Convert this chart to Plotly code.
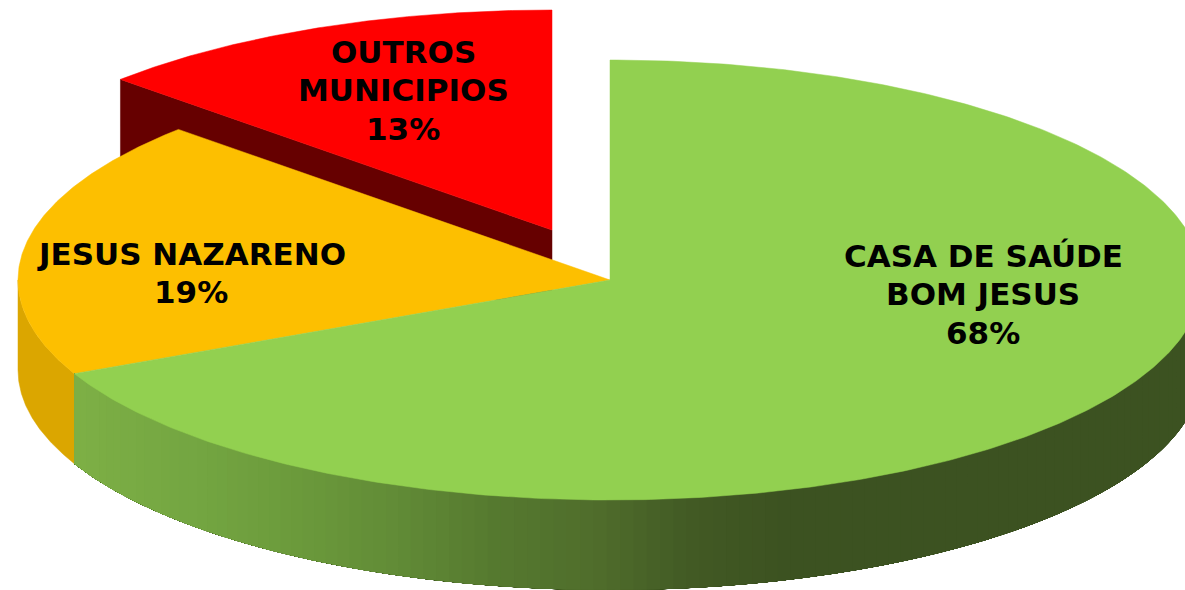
import numpy as np
import plotly.graph_objects as go

label_lines = [["CASA DE SAÚDE", "BOM JESUS", "68%"], ["JESUS NAZARENO", "19%"], ["OUTROS", "MUNICIPIOS", "13%"]]
shares = [68, 19, 13]
top_colors = ["#92D050", "#FDBF00", "#FF0000"]
wall_colors = [None, "#DBA600", "#660000"]
explode = [(0, 0), (0, 0), (-58, -50)]
label_xy = [(983, 294), (191, 273), (403, 90)]
LINE_H = 38.5

CX, CY, RX, RY, DEPTH = 610, 280, 592, 220, 90
GRAD_X = [74, 200, 300, 400, 500, 600, 700, 800, 1200]
GRAD_R = [126, 116, 108, 98, 86, 80, 66, 60, 60]
GRAD_G = [176, 166, 155, 140, 122, 110, 90, 82, 82]
GRAD_B = [70, 66, 60, 55, 48, 44, 36, 33, 33]


def rim(a0, a1, dx=0, dy=0, n=160):
    t = np.radians(np.linspace(a0, a1, n))
    return CX + dx + np.sin(t) * RX, CY + dy - RY * np.cos(t)


fig = go.Figure()


def poly(x, y, color, width=0.5):
    x, y = np.r_[x, x[0]], np.r_[y, y[0]]
    line = dict(color=color, width=width) if width else dict(width=0)
    fig.add_trace(go.Scatter(x=x, y=y, mode="lines", fill="toself", fillcolor=color,
                             line=line, hoverinfo="skip", showlegend=False))


edges = np.cumsum([0] + shares) * 3.6
spans = list(zip(edges[:-1], edges[1:]))

# red slice (drawn first; the orange slice overlaps its wall)
a0, a1 = spans[2]
dx, dy = explode[2]
x, y = rim(a0, a0, dx, dy, 2)
tipx, tipy = CX + dx, CY + dy
poly(np.array([tipx, x[0], x[0], tipx]), np.array([tipy, y[0], y[0] + DEPTH, tipy + DEPTH]), wall_colors[2])
x, y = rim(a0, a1, dx, dy)
poly(np.r_[tipx, x], np.r_[tipy, y], top_colors[2])

# orange slice
a0, a1 = spans[1]
x, y = rim(a0, 270)
poly(np.r_[x, x[::-1]], np.r_[y, y[::-1] + DEPTH], wall_colors[1])
x, y = rim(a0, a1)
poly(np.r_[CX, x], np.r_[CY, y], top_colors[1])

# green slice: wall shaded by painting ever shorter spans from the dark end to the light end
a0, a1 = spans[0]
for u in np.linspace(90, a1, 120, endpoint=False):
    x, y = rim(u, a1, n=120)
    tone = [int(np.interp(x[0], GRAD_X, g)) for g in (GRAD_R, GRAD_G, GRAD_B)]
    poly(np.r_[x, x[::-1]], np.r_[y, y[::-1] + DEPTH], f"rgb({tone[0]},{tone[1]},{tone[2]})", width=0)
x, y = rim(a0, a1, n=400)
poly(np.r_[CX, x], np.r_[CY, y], top_colors[0])

for lines, (lx, ly) in zip(label_lines, label_xy):
    off = (len(lines) - 1) / 2
    for i, text in enumerate(lines):
        fig.add_annotation(x=lx, y=ly + (i - off) * LINE_H, text=text, showarrow=False,
                           font=dict(family="DejaVu Sans", size=31, color="#000000", weight="bold"))

fig.update_layout(width=1185, height=590, margin=dict(l=0, r=0, t=0, b=0),
                  paper_bgcolor="white", plot_bgcolor="white",
                  xaxis=dict(range=[0, 1185], visible=False, fixedrange=True),
                  yaxis=dict(range=[590, 0], visible=False, fixedrange=True))
fig.write_html("out.html", config={"displayModeBar": False},
               post_script="document.body.style.margin='0';document.documentElement.style.overflow='hidden';")
